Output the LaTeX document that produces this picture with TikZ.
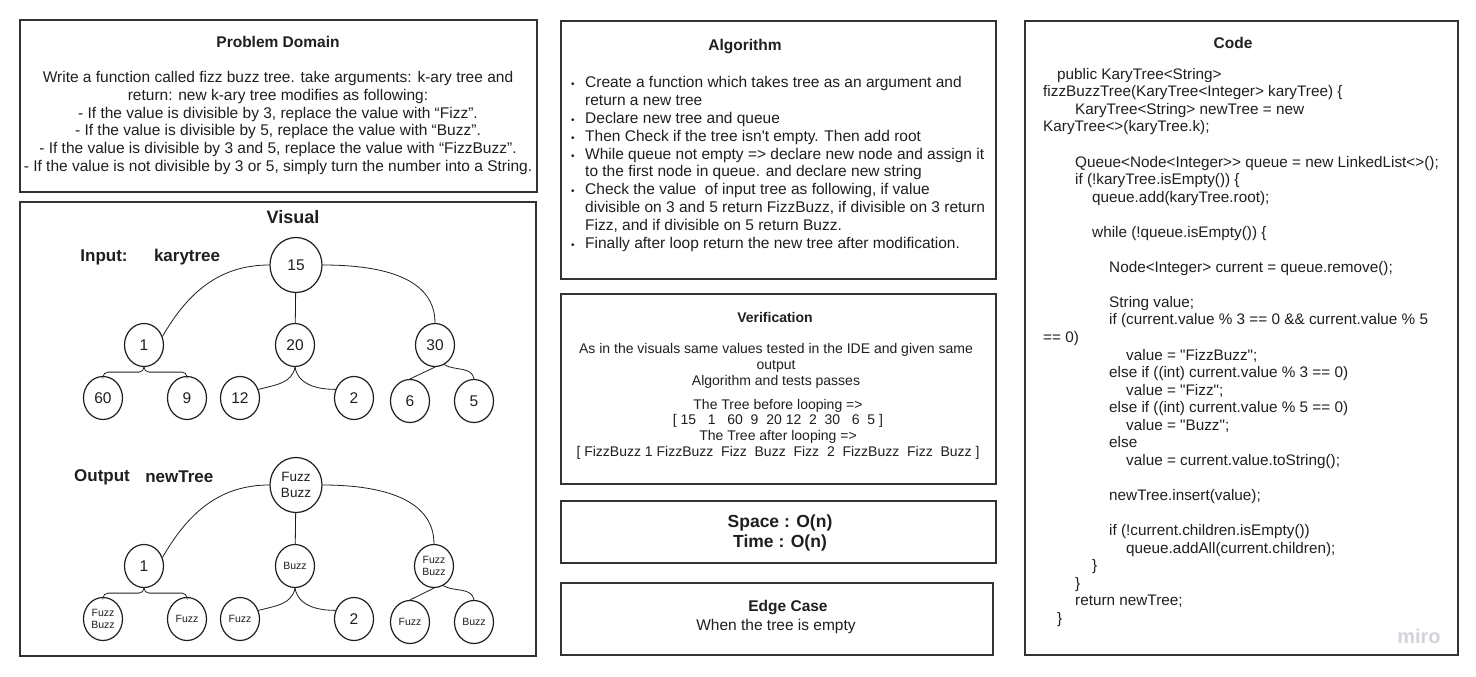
\documentclass[tikz,border=0pt]{standalone}
\usepackage{fontspec}
\setmainfont{Liberation Sans}
\newfontfamily\uifont{Liberation Sans}
\usetikzlibrary{positioning}
\usetikzlibrary{shapes.geometric}

\definecolor{ink}{HTML}{1F1F1F}
\definecolor{frame}{HTML}{333333}
\definecolor{mirogray}{HTML}{D3D3DA}

\newcommand{\algbullet}{\makebox[14pt][l]{{\fontsize{10}{10}\selectfont •}}}
\newcommand{\algcont}{\hspace*{14pt}}

\tikzset{
  panel/.style={draw=frame, line width=1.4pt},
  head/.style={font=\uifont\bfseries\fontsize{15.5}{18}\selectfont, text=ink, inner sep=0pt},
  body/.style={font=\uifont\fontsize{15.5}{17.9}\selectfont, text=ink, inner sep=0pt, align=center},
  note/.style={font=\uifont\fontsize{14}{15.7}\selectfont, text=ink, inner sep=0pt, align=center},
  tag/.style={font=\uifont\bfseries\fontsize{17}{20}\selectfont, text=ink, inner sep=0pt},
  knode/.style={ellipse, draw=ink, line width=1.2pt, minimum width=39pt, minimum height=43pt,
    inner sep=0pt, align=center, font=\uifont\fontsize{15.5}{16}\selectfont, text=ink},
  rootnode/.style={knode, minimum width=52pt, minimum height=55pt},
  smalltext/.style={font=\uifont\fontsize{10.5}{12.5}\selectfont},
  link/.style={draw=ink, line width=0.8pt},
  branch/.style={link, rounded corners=5pt},
}

\begin{document}
\begin{tikzpicture}[x=1pt, y=1pt]

\fill[white] (0,0) rectangle (1476,-677);
\useasboundingbox (0,0) rectangle (1476,-677);

% Panels
\draw[panel] (20,-20) rectangle (537,-192);
\draw[panel] (20,-202) rectangle (536,-656);
\draw[panel] (561,-21) rectangle (996,-279);
\draw[panel] (561,-294) rectangle (996,-484);
\draw[panel] (561,-501) rectangle (996,-563);
\draw[panel] (561,-583) rectangle (993,-655);
\draw[panel] (1025,-21) rectangle (1458,-655);

% Problem Domain
\node[head] (pdTitle) at (278,-42) {Problem Domain};
\node[body] (pdText) at (278,-123) {Write a function called fizz buzz tree. take arguments: k-ary tree and\\
return: new k-ary tree modifies as following:\\
- If the value is divisible by 3, replace the value with “Fizz”.\\
- If the value is divisible by 5, replace the value with “Buzz”.\\
- If the value is divisible by 3 and 5, replace the value with “FizzBuzz”.\\
- If the value is not divisible by 3 or 5, simply turn the number into a String.};

% Visual
\node[tag, font=\uifont\bfseries\fontsize{18}{20}\selectfont] (visTitle) at (293,-217) {Visual};
\node[tag] (inLabel) at (104,-257) {Input:};
\node[tag, right=26pt of inLabel] (inName) {karytree};
\node[tag] (outLabel) at (102,-477) {Output};
\node[tag, right=15pt of outLabel] (outName) {newTree};

% Input tree
\node[rootnode] (r15) at (296,-265) {15};
\node[knode] (n1) at (144,-345) {1};
\node[knode] (n20) at (295,-345) {20};
\node[knode] (n30) at (435,-345) {30};
\node[knode] (n60) at (103,-398) {60};
\node[knode] (n9) at (187,-398) {9};
\node[knode] (n12) at (240,-398) {12};
\node[knode] (n2) at (354,-398) {2};
\node[knode] (n6) at (410,-401) {6};
\node[knode] (n5) at (474,-401) {5};

\draw[link] (r15.west) to[out=180,in=60] (n1.25);
\draw[link] (r15) -- (n20);
\draw[link] (r15.east) to[out=0,in=90] (n30.north);
\draw[branch] (n1.south) -- ++(0,-5) -| (n60.north);
\draw[branch] (n1.south) -- ++(0,-5) -| (n9.north);
\draw[link] (n20.south) to[out=-100,in=15] (n12.25);
\draw[link] (n20.south) to[out=-80,in=180] (n2.155);
\draw[link] (n30.south) -- (n6.north);
\draw[link] (n30.-65) to[out=-30,in=100] (n5.north);

% Output tree
\node[rootnode, font=\uifont\fontsize{13.5}{16}\selectfont] (rFB) at (296,-485) {Fuzz\\Buzz};
\node[knode] (m1) at (144,-566) {1};
\node[knode, smalltext] (mBuzz) at (295,-566) {Buzz};
\node[knode, smalltext] (mFB) at (434,-566) {Fuzz\\Buzz};
\node[knode, smalltext] (mFB2) at (103,-619) {Fuzz\\Buzz};
\node[knode, smalltext] (mFz1) at (187,-619) {Fuzz};
\node[knode, smalltext] (mFz2) at (240,-619) {Fuzz};
\node[knode] (m2) at (354,-619) {2};
\node[knode, smalltext] (mFz3) at (410,-622) {Fuzz};
\node[knode, smalltext] (mBz) at (474,-622) {Buzz};

\draw[link] (rFB.west) to[out=180,in=60] (m1.25);
\draw[link] (rFB) -- (mBuzz);
\draw[link] (rFB.east) to[out=0,in=90] (mFB.north);
\draw[branch] (m1.south) -- ++(0,-5) -| (mFB2.north);
\draw[branch] (m1.south) -- ++(0,-5) -| (mFz1.north);
\draw[link] (mBuzz.south) to[out=-100,in=15] (mFz2.25);
\draw[link] (mBuzz.south) to[out=-80,in=180] (m2.155);
\draw[link] (mFB.south) -- (mFz3.north);
\draw[link] (mFB.-65) to[out=-30,in=100] (mBz.north);

% Algorithm
\node[head] (algTitle) at (745,-47) {Algorithm};
\node[body, align=left, anchor=north west] (algList) at (571,-76) {%
\algbullet Create a function which takes tree as an argument and\\
\algcont return a new tree\\
\algbullet Declare new tree and queue\\
\algbullet Then Check if the tree isn't empty. Then add root\\
\algbullet While queue not empty => declare new node and assign it\\
\algcont to the first node in queue. and declare new string\\
\algbullet Check the value \ of input tree as following, if value\\
\algcont divisible on 3 and 5 return FizzBuzz, if divisible on 3 return\\
\algcont Fizz, and if divisible on 5 return Buzz.\\
\algbullet Finally after loop return the new tree after modification.};

% Verification
\node[head, font=\uifont\bfseries\fontsize{14}{16}\selectfont] (verTitle) at (775,-317) {Verification};
\node[note] (verText) at (776,-366) {As in the visuals same values tested in the IDE and given same\\
output\\
Algorithm and tests passes};
\node[note] (verTrees) at (778,-429) {The Tree before looping =>\\
{[} 15 \ \ 1 \ \ 60 \ 9 \ 20 12 \ 2 \ 30 \ \ 6 \ 5 {]}\\
The Tree after looping =>\\
{[} FizzBuzz 1 FizzBuzz \ Fizz \ Buzz \ Fizz \ 2 \ FizzBuzz \ Fizz \ Buzz {]}};

% Complexity
\node[head, align=center, font=\uifont\bfseries\fontsize{17.5}{20}\selectfont] (cost) at (780,-533) {Space : O(n)\\Time : O(n)};

% Edge case
\node[head] (edgeTitle) at (788,-608) {Edge Case};
\node[body] (edgeText) at (776,-626) {When the tree is empty};

% Code
\node[head] (codeTitle) at (1233,-43) {Code};
\node[body, align=left, anchor=north west, font=\uifont\fontsize{15.3}{17.55}\selectfont] (codeText) at (1043,-68) {%
\hspace*{14pt}public KaryTree<String>\\
fizzBuzzTree(KaryTree<Integer> karyTree) \{\\
\hspace*{32pt}KaryTree<String> newTree = new\\
KaryTree<>(karyTree.k);\\[17.55pt]
\hspace*{32pt}Queue<Node<Integer>> queue = new LinkedList<>();\\
\hspace*{32pt}if (!karyTree.isEmpty()) \{\\
\hspace*{49pt}queue.add(karyTree.root);\\[17.55pt]
\hspace*{49pt}while (!queue.isEmpty()) \{\\[17.55pt]
\hspace*{66pt}Node<Integer> current = queue.remove();\\[17.55pt]
\hspace*{66pt}String value;\\
\hspace*{66pt}if (current.value \% 3 == 0 \&\& current.value \% 5\\
== 0)\\
\hspace*{83pt}value = "FizzBuzz";\\
\hspace*{66pt}else if ((int) current.value \% 3 == 0)\\
\hspace*{83pt}value = "Fizz";\\
\hspace*{66pt}else if ((int) current.value \% 5 == 0)\\
\hspace*{83pt}value = "Buzz";\\
\hspace*{66pt}else\\
\hspace*{83pt}value = current.value.toString();\\[17.55pt]
\hspace*{66pt}newTree.insert(value);\\[17.55pt]
\hspace*{66pt}if (!current.children.isEmpty())\\
\hspace*{83pt}queue.addAll(current.children);\\
\hspace*{49pt}\}\\
\hspace*{32pt}\}\\
\hspace*{32pt}return newTree;\\
\hspace*{14pt}\}};

% Watermark
\node[font=\uifont\bfseries\fontsize{20}{20}\selectfont, text=mirogray, inner sep=0pt] (miro) at (1419,-636) {miro};

\end{tikzpicture}
\end{document}
